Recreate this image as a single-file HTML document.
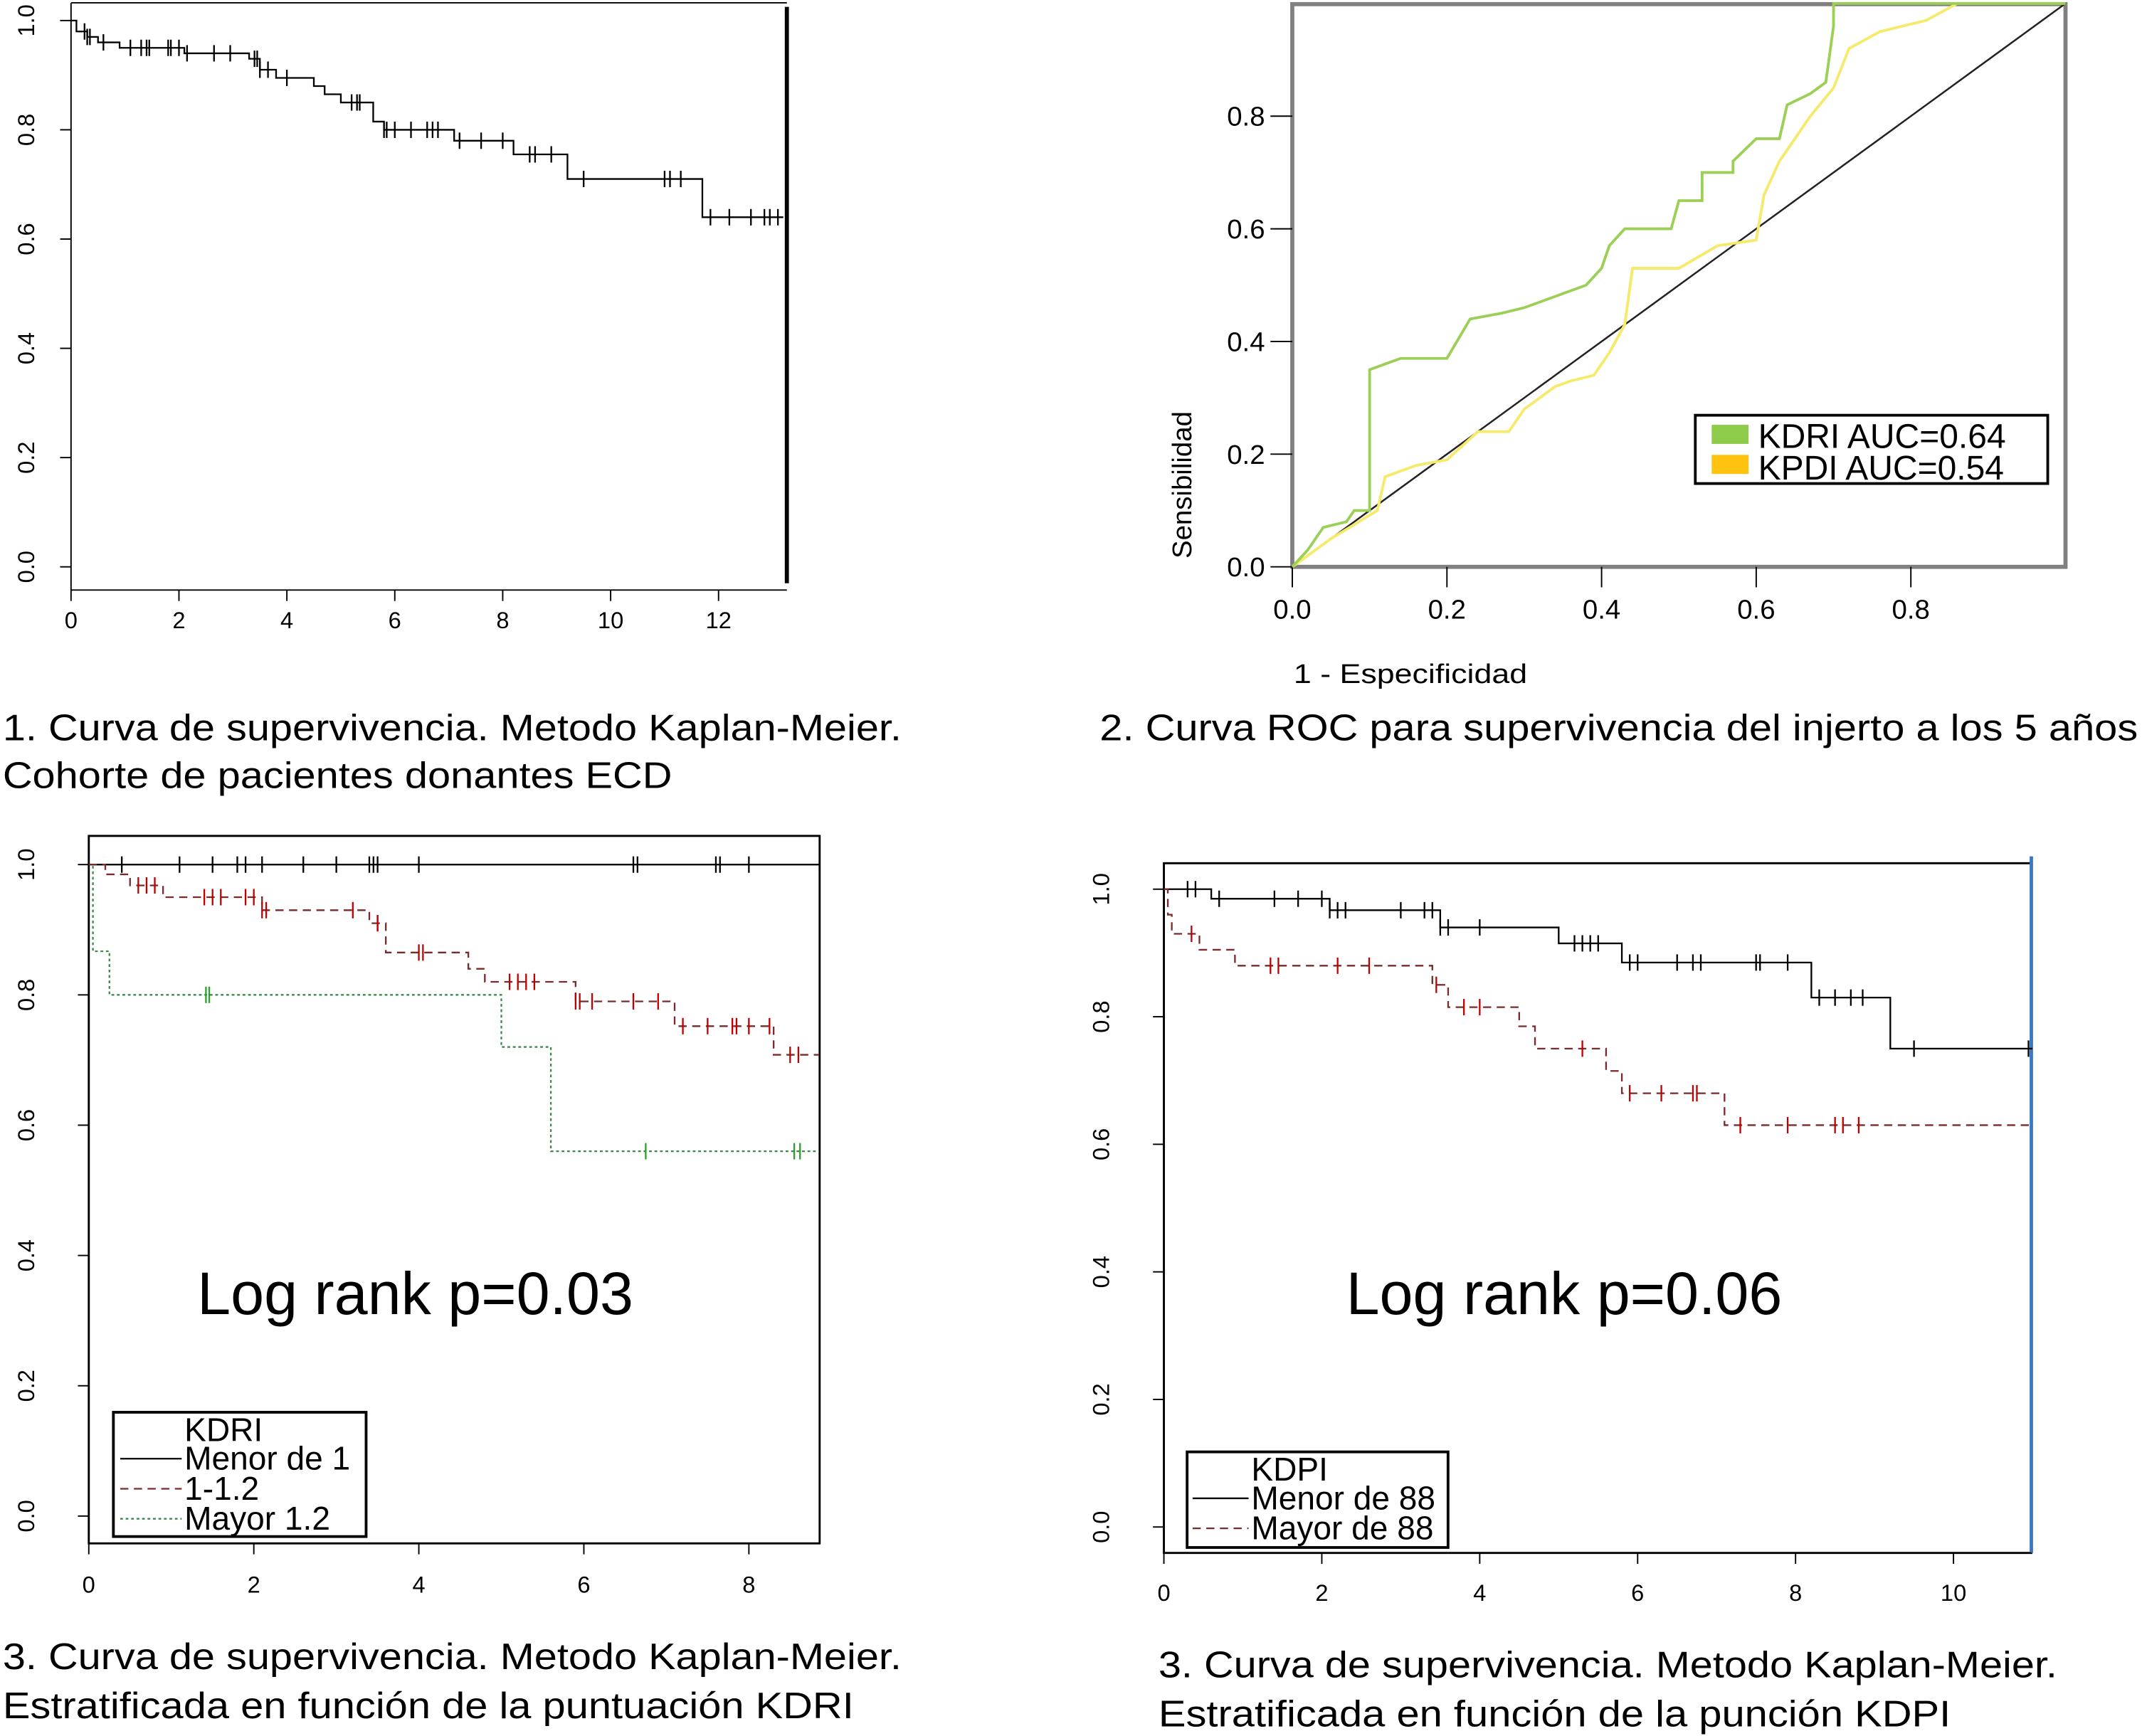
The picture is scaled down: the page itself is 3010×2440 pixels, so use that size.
<!DOCTYPE html>
<html><head><meta charset="utf-8"><style>
html,body{margin:0;padding:0;background:#fff}
svg{display:block}
text{font-family:"Liberation Sans",sans-serif}
</style></head><body>
<svg id="s" width="3010" height="2440" viewBox="0 0 1568 1271" xmlns="http://www.w3.org/2000/svg">
<g id="g1"></g>
<g id="g2"></g>
<g id="g3"></g>
<g id="g4"></g>
<text x="2" y="542" font-size="27" textLength="658" lengthAdjust="spacingAndGlyphs">1. Curva de supervivencia. Metodo Kaplan-Meier.</text>
<text x="2" y="577" font-size="27" textLength="490" lengthAdjust="spacingAndGlyphs">Cohorte de pacientes donantes ECD</text>
<text x="805" y="542" font-size="27" textLength="760" lengthAdjust="spacingAndGlyphs">2. Curva ROC para supervivencia del injerto a los 5 años</text>
<text x="2" y="1222" font-size="27" textLength="658" lengthAdjust="spacingAndGlyphs">3. Curva de supervivencia. Metodo Kaplan-Meier.</text>
<text x="2" y="1258" font-size="27" textLength="623" lengthAdjust="spacingAndGlyphs">Estratificada  en función de la puntuación KDRI</text>
<text x="848" y="1228" font-size="27" textLength="658" lengthAdjust="spacingAndGlyphs">3. Curva de supervivencia. Metodo Kaplan-Meier.</text>
<text x="848" y="1264" font-size="27" textLength="580" lengthAdjust="spacingAndGlyphs">Estratificada  en función de la punción KDPI</text>
</svg>
<script>
// Panel 1 data
const p1Times=[0,0.1,0.3,0.5,0.9,2.1,3.3,3.5,3.8,4.5,4.7,5.0,5.6,5.8,7.1,8.2,9.2,11.7];
const p1Surv=[1.0,0.98,0.97,0.96,0.95,0.94,0.93,0.91,0.895,0.88,0.865,0.85,0.815,0.80,0.78,0.755,0.71,0.64];
const p1Cens=[0.25,0.3,0.35,0.6,1.1,1.3,1.4,1.45,1.8,1.85,2.0,2.15,2.65,2.95,3.4,3.45,3.5,3.65,4.0,5.2,5.3,5.35,5.8,5.85,6.0,6.3,6.6,6.7,6.8,7.2,7.6,8.0,8.5,8.6,8.9,9.5,11.0,11.1,11.3,11.85,12.2,12.6,12.85,12.95,13.1];
const p1XTicks=[0,2,4,6,8,10,12];
const yTicks=[0,0.2,0.4,0.6,0.8,1.0];
// Panel 2 data
const rocKdriX=[0,0.02,0.04,0.07,0.08,0.1,0.1,0.14,0.2,0.23,0.27,0.3,0.38,0.4,0.41,0.43,0.49,0.5,0.53,0.53,0.57,0.57,0.6,0.63,0.64,0.67,0.69,0.7,0.7,0.78,1.0];
const rocKdriY=[0,0.03,0.07,0.08,0.1,0.1,0.35,0.37,0.37,0.44,0.45,0.46,0.5,0.53,0.57,0.6,0.6,0.65,0.65,0.7,0.7,0.72,0.76,0.76,0.82,0.84,0.86,0.96,1.0,1.0,1.0];
const rocKpdiX=[0,0.05,0.11,0.12,0.16,0.2,0.24,0.28,0.3,0.34,0.36,0.39,0.41,0.43,0.44,0.5,0.55,0.6,0.61,0.63,0.67,0.7,0.72,0.76,0.82,0.86,1.0];
const rocKpdiY=[0,0.05,0.1,0.16,0.18,0.19,0.24,0.24,0.28,0.32,0.33,0.34,0.38,0.43,0.53,0.53,0.57,0.58,0.66,0.72,0.8,0.85,0.92,0.95,0.97,1.0,1.0];
const rocTicks=[0,0.2,0.4,0.6,0.8];
// Panel 3 data
const k1Times=[0];const k1Surv=[1.0];
const k1Cens=[0.4,1.1,1.5,1.8,1.9,2.1,2.6,3.0,3.4,3.45,3.5,4.0,6.6,6.65,7.6,7.65,8.0];
const k2Times=[0,0.2,0.5,0.9,2.1,3.4,3.6,4.6,4.8,5.9,7.1,8.3];
const k2Surv=[1.0,0.985,0.968,0.95,0.93,0.91,0.865,0.84,0.82,0.79,0.752,0.708];
const k2Cens=[0.6,0.7,0.8,1.4,1.5,1.6,1.9,2.0,2.1,2.15,3.2,3.5,3.5,4.0,4.05,5.1,5.2,5.3,5.4,5.9,5.95,6.1,6.6,6.9,7.2,7.5,7.8,7.85,8.0,8.25,8.5,8.6];
const k3Times=[0,0.05,0.25,5.0,5.6];
const k3Surv=[1.0,0.867,0.80,0.72,0.56];
const k3Cens=[1.42,1.46,6.75,8.55,8.62];
const p3XTicks=[0,2,4,6,8];
// Panel 4 data
const d1Times=[0,0.6,2.1,3.5,5.0,5.8,8.2,9.2];
const d1Surv=[1.0,0.985,0.967,0.94,0.915,0.885,0.83,0.75];
const d1Cens=[0.3,0.4,0.7,1.4,1.7,2.0,2.1,2.2,2.3,3.0,3.3,3.4,3.5,3.6,4.0,5.2,5.3,5.4,5.5,5.9,6.0,6.5,6.7,6.8,7.5,7.55,7.9,8.3,8.5,8.7,8.85,9.5,10.95];
const d2Times=[0,0.05,0.1,0.45,0.9,3.4,3.6,4.5,4.7,5.0,5.6,5.8,7.1];
const d2Surv=[1.0,0.96,0.93,0.905,0.88,0.85,0.815,0.785,0.75,0.75,0.715,0.68,0.63];
const d2Cens=[0.35,1.35,1.45,2.2,2.6,3.45,3.8,4.0,5.3,5.9,6.3,6.7,6.75,7.3,7.9,8.5,8.6,8.8];
const p4XTicks=[0,2,4,6,8,10];

const NS='http://www.w3.org/2000/svg';
function mk(parent,tag,attrs){const e=document.createElementNS(NS,tag);for(const k in attrs)e.setAttribute(k,attrs[k]);parent.appendChild(e);return e;}
function line(p,x1,y1,x2,y2,st,w,dash){const e=mk(p,'line',{x1:x1,y1:y1,x2:x2,y2:y2,stroke:st,'stroke-width':w||1});if(dash)e.setAttribute('stroke-dasharray',dash);return e;}
function txt(p,x,y,s,size,anchor,rot){const e=mk(p,'text',{x:x,y:y,'font-size':size,'text-anchor':anchor||'middle'});if(rot)e.setAttribute('transform','rotate(-90 '+x+' '+y+')');e.textContent=s;return e;}
function step(p,times,surv,end,X,Y,color,dash,name){let d='M'+X(times[0])+' '+Y(surv[0]);for(let i=1;i<times.length;i++){d+=' H'+X(times[i])+' V'+Y(surv[i]);}d+=' H'+X(end);
 const e=mk(p,'path',{d:d,fill:'none',stroke:color,'stroke-width':1.2});if(dash)e.setAttribute('stroke-dasharray',dash);
 
 }
function survAt(times,surv,t){let s=surv[0];for(let i=0;i<times.length;i++){if(times[i]<=t)s=surv[i];}return s;}
function cens(p,times,surv,cs,X,Y,color,name){cs.forEach(t=>{const y=Y(survAt(times,surv,t));const e=line(p,X(t),y-6,X(t),y+6,color,1.2);
 
 });}
function yAxis(p,x,Y,lx,top,bot){line(p,x,top,x,bot,'#000',1);yTicks.forEach(v=>{line(p,x-8,Y(v),x,Y(v),'#000',1);const t=txt(p,lx,Y(v),v.toFixed(1),17,'middle',true);
 
 });}
function xAxis(p,y,X,ticks,l,r,ly){line(p,l,y,r,y,'#000',1);ticks.forEach(v=>{line(p,X(v),y,X(v),y+8,'#000',1);const t=txt(p,X(v),ly,String(v),17);
 
 });}

// Panel 1
(function(){const g=document.getElementById('g1');
const X=t=>52+t*39.5, Y=v=>415-v*400;
line(g,52,2,576,2,'#000',1);
yAxis(g,52,Y,25,2,432);
xAxis(g,432,X,p1XTicks,52,576,460);
line(g,576,5,576,427,'#000',3);
step(g,p1Times,p1Surv,13.2,X,Y,'#000',null,'survival-curve');
cens(g,p1Times,p1Surv,p1Cens,X,Y,'#000','censor-mark');
})();

// Panel 2
(function(){const g=document.getElementById('g2');
const X=v=>946+v*566, Y=v=>415-v*412.5;
mk(g,'rect',{x:946,y:3,width:566,height:412,fill:'none',stroke:'#808080','stroke-width':3});
rocTicks.forEach(v=>{line(g,930,Y(v),946,Y(v),'#000',1);const t=txt(g,926,Y(v)+7,v.toFixed(1),20,'end');
 
 
 line(g,X(v),415,X(v),430,'#000',1);const t2=txt(g,X(v),453,v.toFixed(1),20);
 
 });
line(g,X(0),Y(0),X(1),Y(1),'#222',1.3);
const pts=(xs,ys)=>xs.map((x,i)=>X(x)+','+Y(ys[i])).join(' ');
const a=mk(g,'polyline',{points:pts(rocKpdiX,rocKpdiY),fill:'none',stroke:'#f5ea6a','stroke-width':2});


const b=mk(g,'polyline',{points:pts(rocKdriX,rocKdriY),fill:'none',stroke:'#9ccf55','stroke-width':2});


const xt=txt(g,947,500,'1 - Especificidad',20,'start');
xt.setAttribute('textLength','171');
xt.setAttribute('lengthAdjust','spacingAndGlyphs');


const yt=txt(g,872,355,'Sensibilidad',20,'middle',true);


const lg=mk(g,'g',{});


mk(lg,'rect',{x:1241,y:304,width:258,height:50,fill:'#fff',stroke:'#000','stroke-width':2});
mk(lg,'rect',{x:1253,y:311,width:27,height:14,fill:'#8fcb4b'});
mk(lg,'rect',{x:1253,y:333,width:27,height:14,fill:'#ffc20e'});
txt(lg,1287,328,'KDRI AUC=0.64',25,'start');
txt(lg,1287,351,'KPDI AUC=0.54',25,'start');
})();

// Panel 3
(function(){const g=document.getElementById('g3');
const X=t=>65+t*60.4, Y=v=>1110-v*477;
mk(g,'rect',{x:65,y:612,width:535,height:518,fill:'none',stroke:'#000','stroke-width':1.5});
yAxis(g,65,Y,25,612,1130);
xAxis(g,1130,X,p3XTicks,65,600,1166);
step(g,k1Times,k1Surv,8.85,X,Y,'#000',null,'curve-menor-de-1');
cens(g,k1Times,k1Surv,k1Cens,X,Y,'#000','censor-mark-menor-de-1');
step(g,k3Times,k3Surv,8.85,X,Y,'#3a8a4a','2,2','curve-mayor-1-2');
cens(g,k3Times,k3Surv,k3Cens,X,Y,'#2ca02c','censor-mark-mayor-1-2');
step(g,k2Times,k2Surv,8.85,X,Y,'#7a2a2a','6,4','curve-1-1-2');
cens(g,k2Times,k2Surv,k2Cens,X,Y,'#c00000','censor-mark-1-1-2');
const lr=txt(g,304,962,'Log rank p=0.03',44);


const lg=mk(g,'g',{});


mk(lg,'rect',{x:83,y:1034,width:185,height:91,fill:'#fff',stroke:'#000','stroke-width':2});
txt(lg,135,1055,'KDRI',24,'start');
line(lg,88,1068,133,1068,'#000',1.2);txt(lg,135,1076,'Menor de 1',24,'start');
line(lg,88,1090,133,1090,'#7a2a2a',1.2,'6,4');txt(lg,135,1098,'1-1.2',24,'start');
line(lg,88,1112,133,1112,'#3a8a4a',1.2,'2,2');txt(lg,135,1120,'Mayor 1.2',24,'start');
})();

// Panel 4
(function(){const g=document.getElementById('g4');
const X=t=>852+t*57.8, Y=v=>1118-v*467;
mk(g,'rect',{x:852,y:632,width:635,height:505,fill:'none',stroke:'#000','stroke-width':1.5});
line(g,1487,627,1487,1137,'#3a78c0',2.5);
yAxis(g,852,Y,812,632,1137);
xAxis(g,1137,X,p4XTicks,852,1487,1172);
step(g,d1Times,d1Surv,11,X,Y,'#000',null,'curve-menor-de-88');
cens(g,d1Times,d1Surv,d1Cens,X,Y,'#000','censor-mark-menor-de-88');
step(g,d2Times,d2Surv,11,X,Y,'#7a2a2a','6,4','curve-mayor-de-88');
cens(g,d2Times,d2Surv,d2Cens,X,Y,'#c00000','censor-mark-mayor-de-88');
const lr=txt(g,1145,962,'Log rank p=0.06',44);


const lg=mk(g,'g',{});


mk(lg,'rect',{x:869,y:1063,width:191,height:70,fill:'#fff',stroke:'#000','stroke-width':2});
txt(lg,916,1084,'KDPI',24,'start');
line(lg,873,1097,914,1097,'#000',1.2);txt(lg,916,1105,'Menor de 88',24,'start');
line(lg,873,1119,914,1119,'#7a2a2a',1.2,'6,4');txt(lg,916,1127,'Mayor de 88',24,'start');
})();
</script>
</body></html>
